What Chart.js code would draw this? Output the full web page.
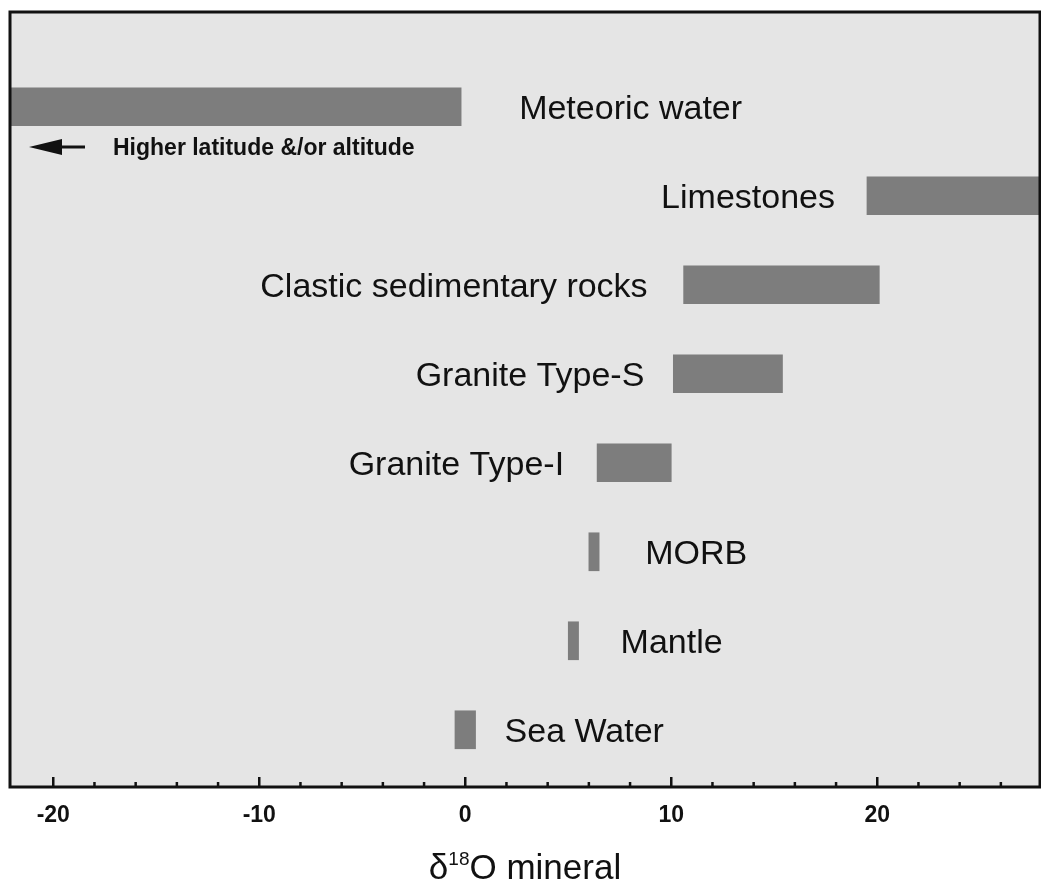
<!DOCTYPE html>
<html>
<head>
<meta charset="utf-8">
<script src="https://cdn.jsdelivr.net/npm/chart.js@4.4.1/dist/chart.umd.min.js"></script>
<style>
  html, body { margin: 0; padding: 0; background: #ffffff; }
  #wrap { width: 1041px; height: 888px; position: relative; }
</style>
</head>
<body>
<div id="wrap"><canvas id="chart"></canvas></div>
<script>
// δ18O ranges of natural reservoirs (‰)
const categories = ['Meteoric water', 'Limestones', 'Clastic sedimentary rocks', 'Granite Type-S',
                    'Granite Type-I', 'MORB', 'Mantle', 'Sea Water'];
const rangeLow  = [-30, 19.5, 10.6, 10.1, 6.4, 6.0, 5.0, -0.5];
const rangeHigh = [-0.2, 30, 20.1, 15.4, 10.0, 6.5, 5.5, 0.5];
const xTickValues = [-20, -10, 0, 10, 20];
const axisTitle = { symbol: 'δ', sup: '18', rest: 'O mineral' };
const noteText = 'Higher latitude &/or altitude';

// where each name sits next to its bar
const labelPlacement = [
  { side: 'right', gap: 58 }, { side: 'left', gap: 32 }, { side: 'left', gap: 36 },
  { side: 'left', gap: 29 }, { side: 'left', gap: 33 }, { side: 'right', gap: 46 },
  { side: 'right', gap: 42 }, { side: 'right', gap: 29 }
];

const FONT = '"Liberation Sans", Arial, Helvetica, sans-serif';

const frameAndLabels = {
  id: 'frameAndLabels',
  beforeDatasetsDraw(chart) {
    const { ctx, chartArea: a } = chart;
    ctx.save();
    ctx.fillStyle = '#e5e5e5';
    ctx.fillRect(a.left, a.top, a.right - a.left, a.bottom - a.top);
    ctx.restore();
  },
  afterDraw(chart) {
    const { ctx, chartArea: a } = chart;
    const xs = chart.scales.x;
    ctx.save();

    // frame
    ctx.strokeStyle = '#111';
    ctx.lineWidth = 3;
    ctx.strokeRect(a.left, a.top, a.right - a.left, a.bottom - a.top);

    // inward tick marks: majors every 10, minors every 2
    ctx.lineWidth = 2.5;
    const start = Math.ceil((xs.min + 0.5) / 2) * 2;
    for (let v = start; v <= xs.max - 0.5; v += 2) {
      const px = xs.getPixelForValue(v);
      const len = (v % 10 === 0) ? 10 : 5;
      ctx.beginPath();
      ctx.moveTo(px, a.bottom);
      ctx.lineTo(px, a.bottom - len);
      ctx.stroke();
    }

    // reservoir names beside the bars
    const meta = chart.getDatasetMeta(0);
    ctx.fillStyle = '#111';
    ctx.font = '34px ' + FONT;
    ctx.textBaseline = 'middle';
    meta.data.forEach((bar, i) => {
      const p = labelPlacement[i];
      const lo = Math.max(Math.min(bar.x, bar.base), a.left);
      const hi = Math.min(Math.max(bar.x, bar.base), a.right);
      if (p.side === 'right') {
        ctx.textAlign = 'left';
        ctx.fillText(categories[i], hi + p.gap, bar.y + 3);
      } else {
        ctx.textAlign = 'right';
        ctx.fillText(categories[i], lo - p.gap, bar.y + 3);
      }
    });

    // arrow and note under the meteoric water bar
    const ay = a.top + 135;
    ctx.fillStyle = '#111';
    ctx.beginPath();
    ctx.moveTo(a.left + 19, ay);
    ctx.lineTo(a.left + 52, ay - 8);
    ctx.lineTo(a.left + 52, ay + 8);
    ctx.closePath();
    ctx.fill();
    ctx.lineWidth = 3;
    ctx.beginPath();
    ctx.moveTo(a.left + 50, ay);
    ctx.lineTo(a.left + 75, ay);
    ctx.stroke();
    ctx.font = 'bold 23px ' + FONT;
    ctx.textAlign = 'left';
    ctx.textBaseline = 'middle';
    ctx.fillText(noteText, a.left + 103, ay + 2);

    // axis title with superscript
    const big = '35px ' + FONT, small = '19px ' + FONT;
    ctx.font = big;
    const w1 = ctx.measureText(axisTitle.symbol).width;
    const w3 = ctx.measureText(axisTitle.rest).width;
    ctx.font = small;
    const w2 = ctx.measureText(axisTitle.sup).width;
    const total = w1 + w2 + w3;
    let tx = (a.left + a.right) / 2 - total / 2;
    const baseY = 879;
    ctx.textAlign = 'left';
    ctx.textBaseline = 'alphabetic';
    ctx.font = big;
    ctx.fillText(axisTitle.symbol, tx, baseY);
    tx += w1;
    ctx.font = small;
    ctx.fillText(axisTitle.sup, tx, baseY - 14);
    tx += w2;
    ctx.font = big;
    ctx.fillText(axisTitle.rest, tx, baseY);

    ctx.restore();
  }
};

new Chart(document.getElementById('chart'), {
  type: 'bar',
  data: {
    datasets: [{
      data: categories.map((c, i) => ({ y: i, x: [rangeLow[i], rangeHigh[i]] })),
      backgroundColor: '#7d7d7d',
      borderWidth: 0,
      barThickness: 38,
      clip: 0
    }]
  },
  options: {
    indexAxis: 'y',
    responsive: true,
    maintainAspectRatio: false,
    animation: false,
    layout: { padding: { left: 10, right: 1, top: 12, bottom: 0 } },
    plugins: { legend: { display: false }, tooltip: { enabled: false } },
    scales: {
      y: {
        type: 'linear',
        reverse: true,
        offset: false,
        min: -1.065,
        max: 7.643,
        display: false
      },
      x: {
        type: 'linear',
        position: 'bottom',
        min: -22.1,
        max: 27.9,
        grid: { display: false },
        border: { display: false },
        afterBuildTicks(scale) {
          scale.ticks = xTickValues.map(v => ({ value: v }));
        },
        afterFit(scale) { scale.height = 101; },
        ticks: {
          color: '#111',
          font: { family: FONT, size: 23, weight: 'bold' },
          padding: 7,
          maxRotation: 0
        }
      }
    }
  },
  plugins: [frameAndLabels]
});
</script>
</body>
</html>
